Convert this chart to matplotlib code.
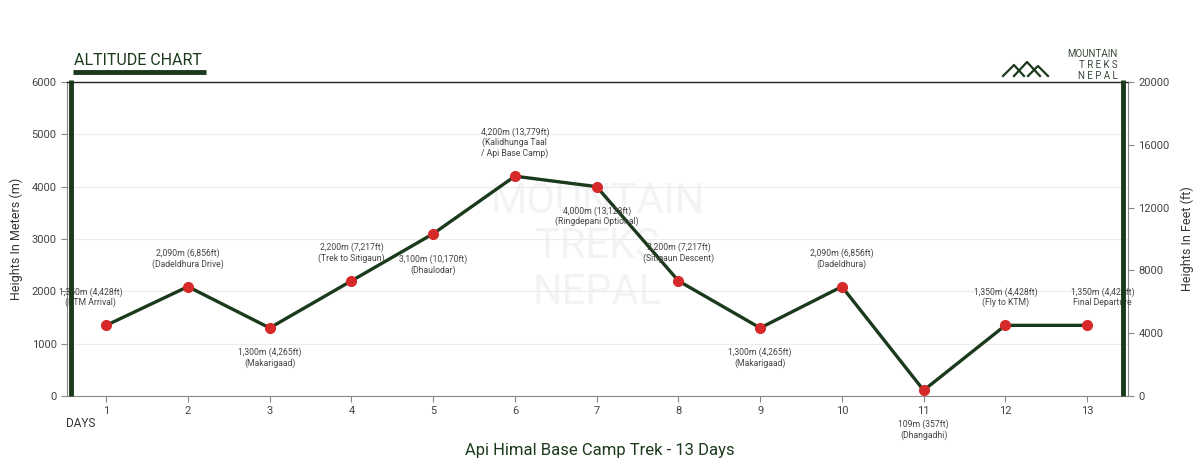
import matplotlib.pyplot as plt

days = list(range(1, 14))
alt_m = [1350, 2090, 1300, 2200, 3100, 4200, 4000, 2200, 1300, 2090, 109, 1350, 1350]
labels = [
    "1,350m (4,428ft)\n(KTM Arrival)",
    "2,090m (6,856ft)\n(Dadeldhura Drive)",
    "1,300m (4,265ft)\n(Makarigaad)",
    "2,200m (7,217ft)\n(Trek to Sitigaun)",
    "3,100m (10,170ft)\n(Dhaulodar)",
    "4,200m (13,779ft)\n(Kalidhunga Taal\n/ Api Base Camp)",
    "4,000m (13,123ft)\n(Ringdepani Optional)",
    "2,200m (7,217ft)\n(Sitigaun Descent)",
    "1,300m (4,265ft)\n(Makarigaad)",
    "2,090m (6,856ft)\n(Dadeldhura)",
    "109m (357ft)\n(Dhangadhi)",
    "1,350m (4,428ft)\n(Fly to KTM)",
    "1,350m (4,428ft)\nFinal Departure",
]
# label offsets in points (dx, dy) from the marker
offsets = [(-11, 13), (0, 13), (0, -14), (0, 13), (0, -15), (0, 13), (0, -14),
           (0, 13), (0, -14), (0, 13), (0, -21), (0, 13), (11, 13)]

green = "#1b3a1c"
red = "#d62a2a"
plt.rcParams['font.family'] = ['Roboto', 'DejaVu Sans']

fig = plt.figure(figsize=(12, 4.65), dpi=100)
ax = fig.add_axes([0.0558, 0.1484, 0.8842, 0.6753])

ax.set_xlim(0.52, 13.5)
ax.set_ylim(0, 6000)
ax.set_yticks(range(0, 6001, 1000))
ax.set_xticks(days)
ax.grid(axis='y', color="#ececec", linewidth=0.8)
ax.set_axisbelow(True)

# watermark
for i, w in enumerate(["MOUNTAIN", "TREKS", "NEPAL"]):
    ax.text(0.5, 0.62 - i * 0.145, w, transform=ax.transAxes, ha='center', va='center',
            fontsize=30, color="#f3f3f3", zorder=0)

ax.plot(days, alt_m, color=green, linewidth=2.4, zorder=3)
ax.plot(days, alt_m, 'o', color=red, markersize=7, zorder=4)

for d, a, t, (dx, dy) in zip(days, alt_m, labels, offsets):
    ax.annotate(t, (d, a), xytext=(dx, dy), textcoords='offset points',
                ha='center', va='bottom' if dy > 0 else 'top',
                fontsize=6.2, color="#444444", linespacing=1.15)

for side in ['left', 'right', 'bottom']:
    ax.spines[side].set_color("#888888")
ax.spines['top'].set_color("#222222")
ax.spines['top'].set_linewidth(1.0)
ax.tick_params(colors="#888888", labelcolor="#444444", labelsize=8, length=4)

# thick green bars along both vertical axes
ax.plot([0.004, 0.004], [0, 1.005], transform=ax.transAxes, color=green,
        linewidth=3.5, clip_on=False, zorder=5, solid_capstyle='butt')
ax.plot([0.995, 0.995], [0, 1.005], transform=ax.transAxes, color=green,
        linewidth=3.5, clip_on=False, zorder=5, solid_capstyle='butt')

ax.set_ylabel("Heights In Meters (m)", fontsize=9, color="#333333", labelpad=6)

ax2 = ax.twinx()
ax2.set_ylim(0, 20000)
ax2.set_yticks(range(0, 20001, 4000))
ax2.tick_params(colors="#888888", labelcolor="#444444", labelsize=8, length=4)
for side in ['left', 'right', 'bottom', 'top']:
    ax2.spines[side].set_visible(False)
ax2.set_ylabel("Heights In Feet (ft)", fontsize=9, color="#333333", labelpad=8)

# titles
fig.text(0.5, 0.032, "Api Himal Base Camp Trek - 13 Days", ha='center', va='center',
         fontsize=12, color=green)
fig.text(0.055, 0.09, "DAYS", ha='left', va='center', fontsize=8.5, color="#333333")
fig.text(0.062, 0.87, "ALTITUDE CHART", ha='left', va='center', fontsize=11.5, color=green)
fig.add_artist(plt.Line2D([0.061, 0.172], [0.845, 0.845], color=green, linewidth=3.5,
                          solid_capstyle='butt'))

# logo
fig.text(0.931, 0.884, "MOUNTAIN", ha='right', va='center', fontsize=7, color="#3a4a3a")
fig.text(0.931, 0.86, "T R E K S", ha='right', va='center', fontsize=7, color="#3a4a3a")
fig.text(0.931, 0.836, "N E P A L", ha='right', va='center', fontsize=7, color="#3a4a3a")
fig.add_artist(plt.Line2D([1003/1200, 1014/1200, 1024/1200], [1-76/465, 1-65/465, 1-76/465],
                          color=green, linewidth=1.6))
fig.add_artist(plt.Line2D([1014/1200, 1027/1200, 1040/1200], [1-76/465, 1-62/465, 1-76/465],
                          color=green, linewidth=1.6))
fig.add_artist(plt.Line2D([1028/1200, 1038/1200, 1048/1200], [1-76/465, 1-66/465, 1-76/465],
                          color=green, linewidth=1.6))

fig.savefig("out.png", dpi=100)
